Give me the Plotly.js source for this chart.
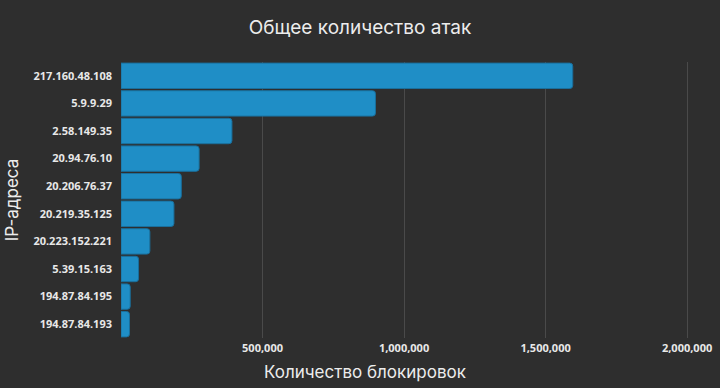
<!DOCTYPE html>
<html>
<head>
<meta charset="utf-8">
<script src="https://cdn.plot.ly/plotly-3.0.1.min.js"></script>
<style>html,body{margin:0;padding:0;background:#2e2e2e;}#chart{width:720px;height:388px;}</style>
</head>
<body>
<div id="chart"></div>
<script>
const ipAddresses = ["217.160.48.108","5.9.9.29","2.58.149.35","20.94.76.10","20.206.76.37","20.219.35.125","20.223.152.221","5.39.15.163","194.87.84.195","194.87.84.193"];
const blockCounts = [1596000, 899000, 392000, 276000, 213000, 187000, 102000, 62000, 32500, 30000];
const xTickValues = [500000, 1000000, 1500000, 2000000];
const xTickLabels = ["500,000", "1,000,000", "1,500,000", "2,000,000"];

const trace = {
  type: 'bar',
  orientation: 'h',
  y: ipAddresses,
  x: blockCounts,
  marker: {color: '#1f8ec6', line: {color: '#1a6f9c', width: 1}, cornerradius: 3},
  hoverinfo: 'x+y'
};

const plotTop = 62, plotBottom = 338;
const plotH = plotBottom - plotTop;

const layout = {
  width: 720, height: 388,
  paper_bgcolor: '#2e2e2e', plot_bgcolor: '#2e2e2e',
  margin: {l: 121, r: 8, t: plotTop, b: 388 - plotBottom},
  bargap: 0.08,
  showlegend: false,
  title: {text: 'Общее количество атак', font: {family: 'Inter, sans-serif', size: 19, color: '#ececec'},
          x: 0.5, xref: 'container', xanchor: 'center', y: 1 - 27 / 388, yref: 'container', yanchor: 'middle'},
  xaxis: {
    range: [0, 2088000],
    tickvals: xTickValues, ticktext: xTickLabels,
    showgrid: true, gridcolor: '#4a4a4a', gridwidth: 1,
    zeroline: false, showline: false,
    tickfont: {family: '"Open Sans", sans-serif', size: 11, color: '#e8e8e8', weight: 'bold'},
    ticks: '', ticklabelstandoff: 2
  },
  yaxis: {
    autorange: 'reversed',
    showgrid: false, zeroline: false, showline: false,
    tickfont: {family: '"Open Sans", sans-serif', size: 11, color: '#e8e8e8', weight: 'bold'},
    ticks: '', ticklabelstandoff: 8,
    title: {text: 'IP-адреса', font: {family: 'Inter, sans-serif', size: 17, color: '#ececec'}, standoff: 10}
  },
  annotations: [{
    text: 'Количество блокировок', xref: 'paper', yref: 'paper',
    x: (365 - 121) / (720 - 121 - 8), y: -(372 - plotBottom) / plotH, xanchor: 'center', yanchor: 'middle',
    showarrow: false, font: {family: 'Inter, sans-serif', size: 17, color: '#ececec'}
  }]
};

Plotly.newPlot('chart', [trace], layout, {displayModeBar: false, responsive: false});
</script>
</body>
</html>
